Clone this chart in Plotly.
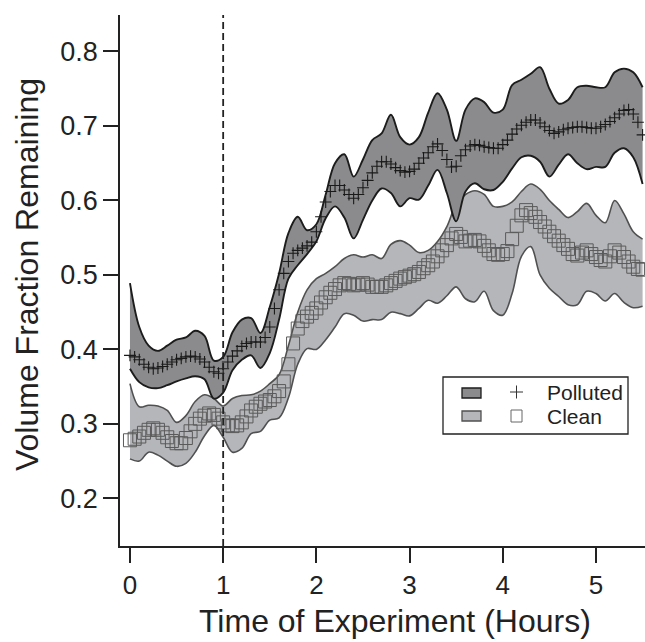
import plotly.graph_objects as go

# ---------------- data ----------------
band_t = [round(0.1 * i, 2) for i in range(56)]
center_t = [round(0.05 * i, 2) for i in range(111)]

polluted_upper = [0.489, 0.430, 0.405, 0.398, 0.405, 0.413, 0.416, 0.425, 0.418, 0.385,
                  0.390, 0.423, 0.440, 0.442, 0.422, 0.457, 0.502, 0.556, 0.578, 0.560,
                  0.568, 0.608, 0.650, 0.662, 0.632, 0.655, 0.681, 0.690, 0.715, 0.685,
                  0.675, 0.685, 0.718, 0.744, 0.722, 0.680, 0.722, 0.737, 0.732, 0.718,
                  0.722, 0.755, 0.762, 0.770, 0.779, 0.750, 0.730, 0.735, 0.752, 0.754,
                  0.752, 0.752, 0.772, 0.777, 0.772, 0.752]
polluted_lower = [0.374, 0.356, 0.349, 0.348, 0.352, 0.357, 0.361, 0.364, 0.360, 0.334,
                  0.342, 0.372, 0.386, 0.392, 0.375, 0.395, 0.440, 0.495, 0.513, 0.528,
                  0.545, 0.576, 0.592, 0.577, 0.549, 0.574, 0.600, 0.616, 0.610, 0.592,
                  0.603, 0.601, 0.620, 0.641, 0.610, 0.572, 0.612, 0.623, 0.615, 0.614,
                  0.625, 0.643, 0.658, 0.660, 0.652, 0.632, 0.648, 0.662, 0.650, 0.642,
                  0.645, 0.645, 0.664, 0.670, 0.658, 0.622]
polluted_center = [0.392, 0.390, 0.386, 0.380, 0.376, 0.374, 0.375, 0.377, 0.380, 0.383,
                   0.386, 0.388, 0.390, 0.391, 0.390, 0.387, 0.383, 0.376, 0.370, 0.368,
                   0.374, 0.383, 0.391, 0.398, 0.404, 0.408, 0.410, 0.410, 0.410, 0.416,
                   0.430, 0.455, 0.480, 0.502, 0.518, 0.529, 0.533, 0.536, 0.539, 0.544,
                   0.558, 0.578, 0.598, 0.612, 0.620, 0.620, 0.614, 0.608, 0.603, 0.608,
                   0.617, 0.627, 0.637, 0.646, 0.652, 0.652, 0.649, 0.644, 0.640, 0.638,
                   0.639, 0.642, 0.650, 0.657, 0.664, 0.672, 0.676, 0.667, 0.655, 0.645,
                   0.646, 0.660, 0.668, 0.673, 0.675, 0.674, 0.672, 0.671, 0.670, 0.670,
                   0.675, 0.681, 0.689, 0.696, 0.701, 0.705, 0.708, 0.708, 0.704, 0.699,
                   0.694, 0.690, 0.692, 0.695, 0.697, 0.698, 0.699, 0.699, 0.698, 0.697,
                   0.697, 0.699, 0.702, 0.706, 0.711, 0.716, 0.721, 0.722, 0.716, 0.705,
                   0.688]

clean_upper = [0.354, 0.323, 0.325, 0.324, 0.318, 0.302, 0.311, 0.330, 0.339, 0.334,
               0.324, 0.334, 0.338, 0.339, 0.344, 0.354, 0.366, 0.405, 0.450, 0.480,
               0.495, 0.502, 0.511, 0.522, 0.527, 0.524, 0.527, 0.522, 0.541, 0.546,
               0.540, 0.530, 0.533, 0.545, 0.565, 0.595, 0.608, 0.613, 0.608, 0.592,
               0.592, 0.598, 0.612, 0.622, 0.615, 0.600, 0.588, 0.577, 0.585, 0.596,
               0.580, 0.570, 0.600, 0.582, 0.558, 0.548]
clean_lower = [0.253, 0.250, 0.262, 0.258, 0.250, 0.243, 0.247, 0.262, 0.284, 0.298,
               0.282, 0.262, 0.267, 0.287, 0.290, 0.305, 0.308, 0.335, 0.380, 0.401,
               0.400, 0.413, 0.430, 0.448, 0.446, 0.438, 0.440, 0.440, 0.450, 0.448,
               0.445, 0.455, 0.466, 0.462, 0.472, 0.484, 0.468, 0.464, 0.478, 0.452,
               0.446, 0.475, 0.525, 0.538, 0.500, 0.482, 0.471, 0.460, 0.460, 0.478,
               0.475, 0.465, 0.475, 0.463, 0.456, 0.458]
clean_center = [0.278, 0.280, 0.283, 0.288, 0.292, 0.294, 0.292, 0.288, 0.282, 0.277,
                0.274, 0.274, 0.281, 0.290, 0.300, 0.307, 0.311, 0.314, 0.312, 0.307,
                0.302, 0.298, 0.297, 0.298, 0.302, 0.310, 0.318, 0.323, 0.327, 0.330,
                0.332, 0.337, 0.344, 0.357, 0.380, 0.408, 0.428, 0.438, 0.444, 0.449,
                0.455, 0.463, 0.470, 0.476, 0.481, 0.486, 0.489, 0.488, 0.486, 0.487,
                0.489, 0.487, 0.484, 0.484, 0.484, 0.486, 0.489, 0.492, 0.495, 0.497,
                0.499, 0.501, 0.504, 0.509, 0.513, 0.518, 0.525, 0.533, 0.540, 0.549,
                0.555, 0.551, 0.545, 0.546, 0.547, 0.545, 0.539, 0.533, 0.528, 0.527,
                0.528, 0.532, 0.548, 0.566, 0.580, 0.587, 0.583, 0.578, 0.571, 0.565,
                0.558, 0.552, 0.546, 0.540, 0.535, 0.528, 0.526, 0.530, 0.533, 0.528,
                0.524, 0.520, 0.518, 0.525, 0.533, 0.530, 0.524, 0.518, 0.511, 0.508,
                0.507]

x_ticks = [0, 1, 2, 3, 4, 5]
y_ticks = [0.2, 0.3, 0.4, 0.5, 0.6, 0.7, 0.8]
treatment_time = 1.0
series_names = ["Polluted", "Clean"]

# ---------------- styles ----------------
FONT = "Liberation Sans, Arial, Helvetica, sans-serif"
DARK_FILL = "#8b8b8d"
LIGHT_FILL = "#b5b6b9"
DARK_EDGE = "#1c1c1c"
LIGHT_EDGE = "#505050"
AX = "#222222"

fig = go.Figure()

# clean band
fig.add_trace(go.Scatter(x=band_t, y=clean_lower, mode="lines",
                         line=dict(color=LIGHT_EDGE, width=1.6, shape="spline", smoothing=1.0),
                         showlegend=False, hoverinfo="skip"))
fig.add_trace(go.Scatter(x=band_t, y=clean_upper, mode="lines", fill="tonexty",
                         fillcolor=LIGHT_FILL,
                         line=dict(color=LIGHT_EDGE, width=1.6, shape="spline", smoothing=1.0),
                         showlegend=False, hoverinfo="skip"))
# polluted band
fig.add_trace(go.Scatter(x=band_t, y=polluted_lower, mode="lines",
                         line=dict(color=DARK_EDGE, width=1.9, shape="spline", smoothing=1.0),
                         showlegend=False, hoverinfo="skip"))
fig.add_trace(go.Scatter(x=band_t, y=polluted_upper, mode="lines", fill="tonexty",
                         fillcolor=DARK_FILL,
                         line=dict(color=DARK_EDGE, width=1.9, shape="spline", smoothing=1.0),
                         showlegend=False, hoverinfo="skip"))
# centre markers
fig.add_trace(go.Scatter(x=center_t, y=clean_center, mode="markers", name=series_names[1],
                         marker=dict(symbol="square-open", size=13, color="#5a5a5a",
                                     line=dict(width=1, color="#5a5a5a")),
                         showlegend=False))
fig.add_trace(go.Scatter(x=center_t, y=polluted_center, mode="markers", name=series_names[0],
                         marker=dict(symbol="cross-thin-open", size=8.5, color="#1a1a1a",
                                     line=dict(width=1.1, color="#1a1a1a")),
                         showlegend=False))

W, H = 645, 642
ML, MR, MT, MB = 120, 0, 15, 96
PW, PH = W - ML - MR, H - MT - MB


def px(xp):
    return (xp - ML) / PW


def py(yp):
    return (H - MB - yp) / PH


shapes = [
    dict(type="line", xref="x", yref="paper", x0=treatment_time, x1=treatment_time, y0=0, y1=1,
         line=dict(color=AX, width=1.8, dash="7px,4px"), layer="above"),
    # legend box
    dict(type="rect", xref="paper", yref="paper", x0=px(443), x1=px(628), y0=py(434), y1=py(377),
         line=dict(color=AX, width=1.3), fillcolor="white", layer="above"),
    dict(type="rect", xref="paper", yref="paper", x0=px(462), x1=px(481), y0=py(398), y1=py(388),
         line=dict(color=DARK_EDGE, width=1.3), fillcolor=DARK_FILL, layer="above"),
    dict(type="rect", xref="paper", yref="paper", x0=px(462), x1=px(481), y0=py(421), y1=py(411),
         line=dict(color=LIGHT_EDGE, width=1.3), fillcolor=LIGHT_FILL, layer="above"),
    # legend "+"
    dict(type="line", xref="paper", yref="paper", x0=px(510), x1=px(523), y0=py(392), y1=py(392),
         line=dict(color="#333", width=1), layer="above"),
    dict(type="line", xref="paper", yref="paper", x0=px(516.5), x1=px(516.5), y0=py(385.5), y1=py(398.5),
         line=dict(color="#333", width=1), layer="above"),
    # legend square
    dict(type="rect", xref="paper", yref="paper", x0=px(511), x1=px(522), y0=py(422), y1=py(410),
         line=dict(color="#666", width=1), fillcolor="white", layer="above"),
]

annotations = [
    dict(text=series_names[0], xref="paper", yref="paper", x=px(545), y=py(392),
         xanchor="left", yanchor="middle", showarrow=False,
         font=dict(family=FONT, size=21, color="#222")),
    dict(text=series_names[1], xref="paper", yref="paper", x=px(545), y=py(416),
         xanchor="left", yanchor="middle", showarrow=False,
         font=dict(family=FONT, size=21, color="#222")),
    dict(text="Time of Experiment (Hours)", xref="paper", yref="paper", x=px(395), y=py(621),
         xanchor="center", yanchor="middle", showarrow=False,
         font=dict(family=FONT, size=32, color="#222")),
    dict(text="Volume Fraction Remaining", xref="paper", yref="paper", x=px(27), y=py(275),
         xanchor="center", yanchor="middle", showarrow=False, textangle=-90,
         font=dict(family=FONT, size=32, color="#222")),
]

fig.update_layout(
    width=W, height=H,
    margin=dict(l=ML, r=MR, t=MT, b=MB, pad=0),
    paper_bgcolor="white", plot_bgcolor="white",
    showlegend=False,
    shapes=shapes, annotations=annotations,
    font=dict(family=FONT, color="#222"),
    xaxis=dict(range=[-0.107, 5.526], tickvals=x_ticks, ticktext=[str(v) for v in x_ticks],
               showgrid=False, zeroline=False, showline=True, linecolor=AX, linewidth=1.5,
               ticks="outside", ticklen=15, tickwidth=1.5, tickcolor=AX,
               tickfont=dict(family=FONT, size=26, color="#222")),
    yaxis=dict(range=[0.136, 0.849], tickvals=y_ticks, ticktext=[f"{v:.1f}" for v in y_ticks],
               showgrid=False, zeroline=False, showline=True, linecolor=AX, linewidth=1.5,
               ticks="outside", ticklen=15, tickwidth=1.5, tickcolor=AX,
               tickfont=dict(family=FONT, size=27, color="#222")),
)

fig.write_html("out.html")
